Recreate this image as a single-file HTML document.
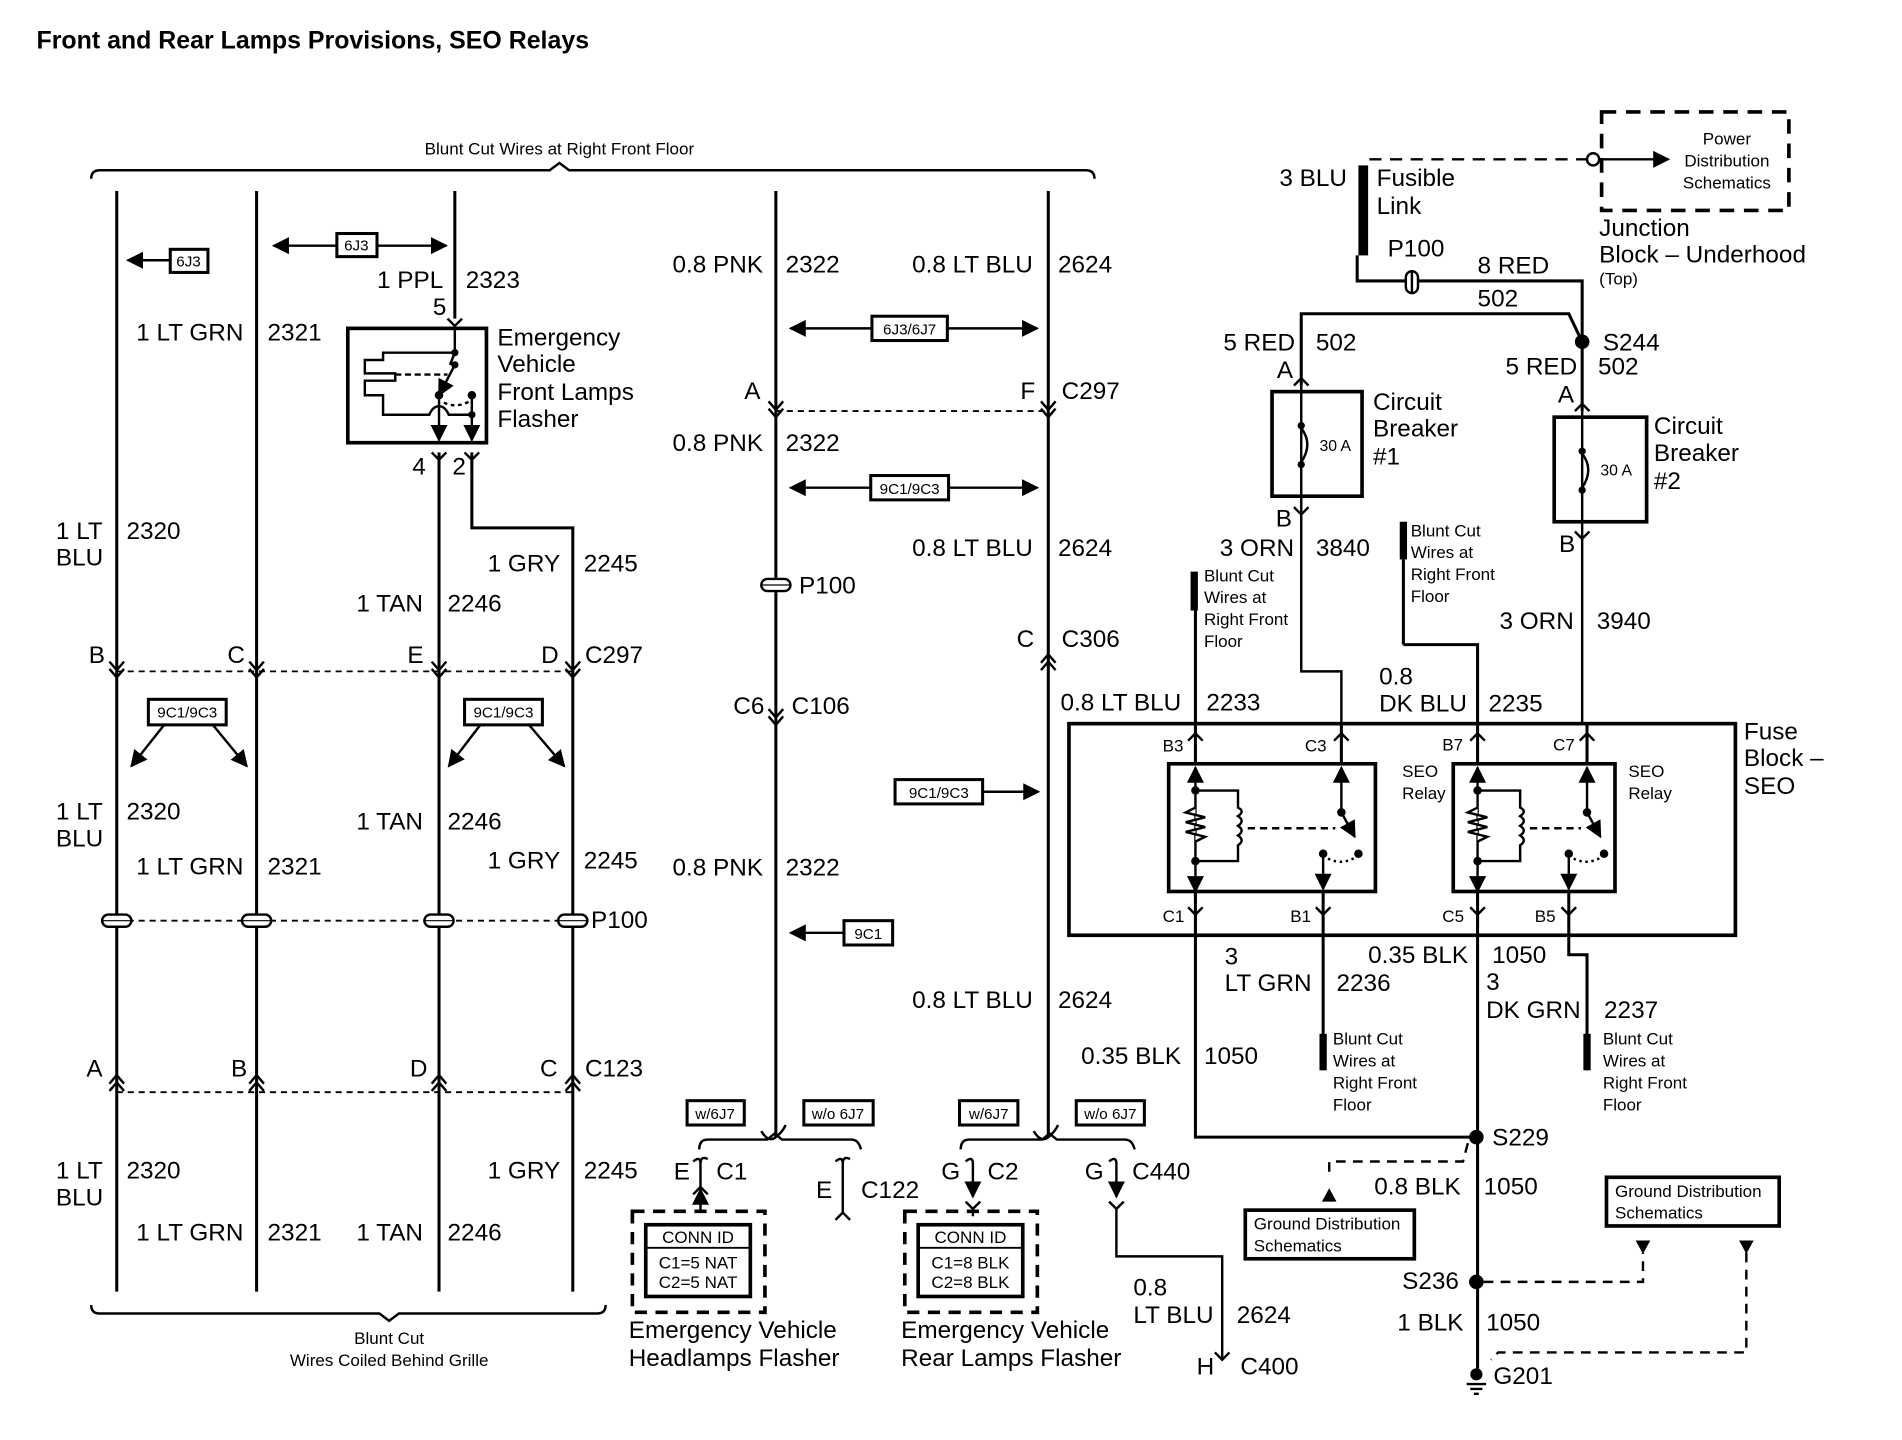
<!DOCTYPE html>
<html><head><meta charset="utf-8"><style>
html,body{margin:0;padding:0;background:#fff;}
svg{display:block;}
text{font-family:"Liberation Sans",Arial,sans-serif;fill:#000;}
.l{font-size:20px;}
.s{font-size:14px;}
.b{font-size:12.5px;}
</style></head><body>
<svg width="1902" height="1440" viewBox="0 0 1564 1184" preserveAspectRatio="none" xmlns="http://www.w3.org/2000/svg">
<defs>
<marker id="ar" viewBox="0 0 10 10" refX="9" refY="5" markerWidth="7" markerHeight="7" orient="auto-start-reverse"><path d="M0,0 L10,5 L0,10 z" fill="#000"/></marker>
</defs>
<rect width="1564" height="1184" fill="#fff"/>
<text x="30" y="40" style="font-size:20.5px;font-weight:bold">Front and Rear Lamps Provisions, SEO Relays</text>

<g stroke="#000" fill="none" stroke-width="2">
<path d="M75,147 Q75,140 82,140 L452,140 L460,134 L468,140 L893,140 Q900,140 900,147"/>
<path d="M75,1073 Q75,1080 82,1080 L312,1080 L320,1086 L328,1080 L491,1080 Q498,1080 498,1073"/>
</g>
<text x="460" y="127" text-anchor="middle" class="s">Blunt Cut Wires at Right Front Floor</text>
<text x="320" y="1105" text-anchor="middle" class="s">Blunt Cut</text>
<text x="320" y="1123" text-anchor="middle" class="s">Wires Coiled Behind Grille</text>

<g stroke="#000" fill="none" stroke-width="2.5">
<path d="M96,157 V1062"/><path d="M211,157 V1062"/>
<path d="M374,157 V262"/><path d="M361,372 V1062"/>
<path d="M388,372 V434 H471 V1062"/>
<path d="M638,157 V935"/><path d="M862,157 V935"/>
</g>
<g stroke="#000" fill="none" stroke-width="2">
<path d="M90,544 L96,551 L102,544 M90,550 L96,557 L102,550"/>
<path d="M205,544 L211,551 L217,544 M205,550 L211,557 L217,550"/>
<path d="M355,544 L361,551 L367,544 M355,550 L361,557 L367,550"/>
<path d="M465,544 L471,551 L477,544 M465,550 L471,557 L477,550"/>
<path d="M90,891 L96,884 L102,891 M90,897 L96,890 L102,897"/>
<path d="M205,891 L211,884 L217,891 M205,897 L211,890 L217,897"/>
<path d="M355,891 L361,884 L367,891 M355,897 L361,890 L367,897"/>
<path d="M465,891 L471,884 L477,891 M465,897 L471,890 L477,897"/>
<path d="M632,330 L638,337 L644,330 M632,336 L638,343 L644,336"/>
<path d="M856,330 L862,337 L868,330 M856,336 L862,343 L868,336"/>
<path d="M856,545 L862,538 L868,545 M856,551 L862,544 L868,551"/>
<path d="M632,583 L638,590 L644,583 M632,589 L638,596 L644,589"/>
</g>
<g stroke="#000" stroke-width="1.5" stroke-dasharray="5,4">
<path d="M96,552 H471"/><path d="M96,898 H471"/><path d="M96,757 H471"/><path d="M638,338 H862"/>
</g>
<g fill="#fff" stroke="#000" stroke-width="2">
<rect x="84" y="752" width="24" height="10" rx="5"/><rect x="199" y="752" width="24" height="10" rx="5"/>
<rect x="349" y="752" width="24" height="10" rx="5"/><rect x="459" y="752" width="24" height="10" rx="5"/>
<rect x="626" y="476" width="24" height="10" rx="5"/>
</g>
<g stroke="#000" stroke-width="1"><path d="M84,757 H108 M199,757 H223 M349,757 H373 M459,757 H483 M626,481 H650"/></g>

<g stroke="#000" stroke-width="2" fill="none">
<path d="M140,214 H105" marker-end="url(#ar)"/>
<path d="M225,202 H367" marker-end="url(#ar)" marker-start="url(#ar)"/>
<path d="M135,596 L108,630" marker-end="url(#ar)"/><path d="M175,596 L203,630" marker-end="url(#ar)"/>
<path d="M395,596 L369,630" marker-end="url(#ar)"/><path d="M435,596 L464,630" marker-end="url(#ar)"/>
<path d="M650,270 H853" marker-end="url(#ar)" marker-start="url(#ar)"/>
<path d="M650,401 H853" marker-end="url(#ar)" marker-start="url(#ar)"/>
<path d="M808,651 H854" marker-end="url(#ar)"/>
<path d="M694,767 H650" marker-end="url(#ar)"/>
</g>
<g stroke="#000" stroke-width="2.5" fill="#fff">
<rect x="140" y="205" width="31" height="19"/><rect x="277" y="192" width="33" height="19"/>
<rect x="122" y="575" width="64" height="21"/><rect x="382" y="575" width="64" height="21"/>
<rect x="717" y="260" width="62" height="20"/><rect x="716" y="391" width="64" height="20"/>
<rect x="736" y="641" width="72" height="20"/><rect x="694" y="757" width="40" height="20"/>
<rect x="565" y="905" width="47" height="20"/><rect x="661" y="905" width="57" height="20"/>
<rect x="789" y="905" width="48" height="20"/><rect x="885" y="905" width="56" height="20"/>
</g>
<g class="b" text-anchor="middle">
<text x="155" y="219" class="b">6J3</text><text x="293" y="206" class="b">6J3</text>
<text x="154" y="590" class="b">9C1/9C3</text><text x="414" y="590" class="b">9C1/9C3</text>
<text x="748" y="275" class="b">6J3/6J7</text><text x="748" y="406" class="b">9C1/9C3</text>
<text x="772" y="656" class="b">9C1/9C3</text><text x="714" y="772" class="b">9C1</text>
<text x="588" y="920" class="b">w/6J7</text><text x="689" y="920" class="b">w/o 6J7</text>
<text x="813" y="920" class="b">w/6J7</text><text x="913" y="920" class="b">w/o 6J7</text>
</g>

<!-- flasher -->
<g stroke="#000" fill="none" stroke-width="2">
<rect x="286" y="270" width="114" height="94" stroke-width="3"/>
<path d="M368,262 L374,268 L380,262"/>
<path d="M374,270 V290 L370,300 M374,290 H315 V296 H300 V307 H325 V313 H300 V325 H315 V341 H353 Q356,334 361,334 Q366,334 369,341 H388"/>
<path d="M374,300 L361,325" marker-end="url(#ar)"/>
<path d="M325,308 H368" stroke-dasharray="5,3"/>
<path d="M361,325 V362" marker-end="url(#ar)"/><path d="M388,325 V362" marker-end="url(#ar)"/>
<path d="M365,331 Q375,336 386,330" stroke-dasharray="3,3"/>
<path d="M355,372 L361,378 L367,372 M382,372 L388,378 L394,372"/>
</g>
<g fill="#000"><circle cx="374" cy="290" r="3"/><circle cx="374" cy="300" r="3"/><circle cx="361" cy="325" r="3.5"/><circle cx="388" cy="325" r="3.5"/><circle cx="388" cy="341" r="3"/></g>

<g class="l">
<text x="310" y="237">1 PPL</text><text x="383" y="237">2323</text><text x="356" y="259">5</text>
<text x="112" y="280">1 LT GRN</text><text x="220" y="280">2321</text>
<text x="409" y="284">Emergency</text><text x="409" y="306">Vehicle</text><text x="409" y="329">Front Lamps</text><text x="409" y="351">Flasher</text>
<text x="339" y="390">4</text><text x="372" y="390">2</text>
<text x="46" y="443">1 LT</text><text x="46" y="465">BLU</text><text x="104" y="443">2320</text>
<text x="401" y="470">1 GRY</text><text x="480" y="470">2245</text>
<text x="293" y="503">1 TAN</text><text x="368" y="503">2246</text>
<text x="73" y="545">B</text><text x="187" y="545">C</text><text x="335" y="545">E</text><text x="445" y="545">D</text><text x="481" y="545">C297</text>
<text x="46" y="674">1 LT</text><text x="46" y="696">BLU</text><text x="104" y="674">2320</text>
<text x="293" y="682">1 TAN</text><text x="368" y="682">2246</text>
<text x="112" y="719">1 LT GRN</text><text x="220" y="719">2321</text>
<text x="401" y="714">1 GRY</text><text x="480" y="714">2245</text>
<text x="486" y="763">P100</text>
<text x="71" y="885">A</text><text x="190" y="885">B</text><text x="337" y="885">D</text><text x="444" y="885">C</text><text x="481" y="885">C123</text>
<text x="46" y="969">1 LT</text><text x="46" y="991">BLU</text><text x="104" y="969">2320</text>
<text x="401" y="969">1 GRY</text><text x="480" y="969">2245</text>
<text x="112" y="1020">1 LT GRN</text><text x="220" y="1020">2321</text>
<text x="293" y="1020">1 TAN</text><text x="368" y="1020">2246</text>

<text x="553" y="224">0.8 PNK</text><text x="646" y="224">2322</text>
<text x="750" y="224">0.8 LT BLU</text><text x="870" y="224">2624</text>
<text x="612" y="328">A</text><text x="839" y="328">F</text><text x="873" y="328">C297</text>
<text x="553" y="371">0.8 PNK</text><text x="646" y="371">2322</text>
<text x="750" y="457">0.8 LT BLU</text><text x="870" y="457">2624</text>
<text x="657" y="488">P100</text>
<text x="836" y="532">C</text><text x="873" y="532">C306</text>
<text x="603" y="587">C6</text><text x="651" y="587">C106</text>
<text x="553" y="720">0.8 PNK</text><text x="646" y="720">2322</text>
<text x="750" y="829">0.8 LT BLU</text><text x="870" y="829">2624</text>
<text x="554" y="970">E</text><text x="589" y="970">C1</text>
<text x="671" y="985">E</text><text x="708" y="985">C122</text>
<text x="774" y="970">G</text><text x="812" y="970">C2</text>
<text x="892" y="970">G</text><text x="931" y="970">C440</text>
<text x="932" y="1065">0.8</text><text x="932" y="1088">LT BLU</text><text x="1017" y="1088">2624</text>
<text x="984" y="1130">H</text><text x="1020" y="1130">C400</text>
<text x="517" y="1100">Emergency Vehicle</text><text x="517" y="1123">Headlamps Flasher</text>
<text x="741" y="1100">Emergency Vehicle</text><text x="741" y="1123">Rear Lamps Flasher</text>
</g>

<g stroke="#000" fill="none" stroke-width="2">
<path d="M626,930 Q632,940 638,935 Q644,930 646,925"/>
<path d="M575,945 Q575,937 582,937 L631,937 L637,932 L643,937 L700,937 Q706,937 708,945"/>
<path d="M850,930 Q856,940 862,935 Q868,930 870,925"/>
<path d="M790,945 Q790,937 797,937 L857,937 L863,932 L869,937 L925,937 Q931,937 933,945"/>
<path d="M570,955 Q576,950 576,957 V976 M576,957 Q576,950 582,953"/>
<path d="M576,995 V978" marker-end="url(#ar)"/><path d="M570,982 L576,976 L582,982"/>
<path d="M687,955 Q693,950 693,957 V997 L687,1003 M693,997 L699,1003 M693,957 Q693,950 699,953"/>
<path d="M794,955 Q800,950 800,957 V984" marker-end="url(#ar)"/><path d="M794,988 L800,994 L806,988 M800,994 V1000"/>
<path d="M912,955 Q918,950 918,957 V984" marker-end="url(#ar)"/><path d="M912,988 L918,994 L924,988 M918,994 V1033 H1005 V1118"/>
<path d="M999,1112 L1005,1118 L1011,1112"/>
</g>
<g stroke="#000" fill="none" stroke-width="3" stroke-dasharray="10,7">
<rect x="520" y="996" width="109" height="83"/><rect x="744" y="996" width="109" height="83"/>
</g>
<g stroke="#000" stroke-width="3" fill="#fff">
<rect x="531" y="1007" width="86" height="59"/><rect x="755" y="1007" width="86" height="59"/>
</g>
<g stroke="#000" stroke-width="1.5"><path d="M531,1026 H617 M755,1026 H841"/></g>
<g class="s" text-anchor="middle">
<text x="574" y="1022">CONN ID</text><text x="574" y="1043">C1=5 NAT</text><text x="574" y="1059">C2=5 NAT</text>
<text x="798" y="1022">CONN ID</text><text x="798" y="1043">C1=8 BLK</text><text x="798" y="1059">C2=8 BLK</text>
</g>

<!-- right side top -->
<g stroke="#000" fill="none" stroke-width="2.5">
<path d="M1116,210 V231 H1301 V281"/>
<path d="M1070,317 V258 H1290 L1301,281"/>
<path d="M1301,281 V338"/>
</g>
<rect x="1117" y="136" width="8" height="74" fill="#000"/>
<g stroke="#000" fill="none" stroke-width="2">
<path d="M1126,131 H1305" stroke-dasharray="10,7"/>
<circle cx="1310" cy="131" r="5" fill="#fff"/>
<path d="M1315,131 H1372" marker-end="url(#ar)"/>
<rect x="1317" y="92" width="154" height="81" stroke-width="3" stroke-dasharray="12,8"/>
<rect x="1156" y="223" width="10" height="18" rx="5" fill="#fff"/><path d="M1161,223 V241"/>
</g>
<text x="1420" y="119" text-anchor="middle" class="s">Power</text>
<text x="1420" y="137" text-anchor="middle" class="s">Distribution</text>
<text x="1420" y="155" text-anchor="middle" class="s">Schematics</text>
<circle cx="1301" cy="281" r="6" fill="#000"/>

<g stroke="#000" fill="none" stroke-width="3">
<rect x="1046" y="322" width="74" height="86"/><rect x="1278" y="343" width="76" height="86"/>
</g>
<g stroke="#000" fill="none" stroke-width="2">
<path d="M1064,317 L1070,311 L1076,317 M1070,317 V408"/>
<path d="M1070,352 Q1080,365 1070,380"/>
<path d="M1295,338 L1301,332 L1307,338 M1301,338 V429"/>
<path d="M1301,373 Q1311,386 1301,401"/>
<path d="M1064,417 L1070,423 L1076,417 M1070,408 V552 H1103 V594"/>
<path d="M1295,437 L1301,443 L1307,437 M1301,429 V594"/>
</g>
<g fill="#000"><circle cx="1070" cy="350" r="3"/><circle cx="1070" cy="382" r="3"/><circle cx="1301" cy="371" r="3"/><circle cx="1301" cy="403" r="3"/></g>
<text x="1085" y="371" class="s" style="font-size:13px">30 A</text><text x="1316" y="391" class="s" style="font-size:13px">30 A</text>

<rect x="879" y="595" width="548" height="174" fill="none" stroke="#000" stroke-width="3"/>
<g stroke="#000" fill="none" stroke-width="2.5">
<path d="M983,500 V628"/>
<path d="M1154,530 H1215 V628"/>
<path d="M1154,460 V530"/>
<path d="M1103,594 V628"/>
<path d="M1305,594 V628"/>
<path d="M983,733 V935 H1214"/>
<path d="M1088,733 V880"/>
<path d="M1215,733 V1130"/>
<path d="M1290,733 V785 H1305 V880"/>
</g>
<rect x="979" y="470" width="6" height="32" fill="#000"/>
<rect x="1151" y="429" width="6" height="31" fill="#000"/>
<rect x="1085" y="850" width="6" height="30" fill="#000"/>
<rect x="1302" y="850" width="6" height="30" fill="#000"/>

<!-- relay 1 -->
<g stroke="#000" fill="none" stroke-width="2">
<rect x="961" y="628" width="170" height="105" stroke-width="3"/>
<path d="M977,609 L983,603 L989,609 M1097,609 L1103,603 L1109,609"/>
<path d="M977,746 L983,752 L989,746 M1082,746 L1088,752 L1094,746"/>
<path d="M983,631 V733" marker-start="url(#ar)" marker-end="url(#ar)"/>
<path d="M983,650 H1018 V664 Q1024,667 1018,671 Q1024,675 1018,679 Q1024,683 1018,687 Q1024,691 1018,695 V708 H983"/>
<path d="M983,664 L975,668 L991,672 L975,676 L991,680 L975,684 L991,688 L983,692" fill="#fff"/>
<path d="M1026,681 H1098" stroke-dasharray="6,4"/>
<path d="M1103,631 V668" marker-start="url(#ar)"/>
<path d="M1103,668 L1114,688" marker-end="url(#ar)"/>
<path d="M1088,702 V731" marker-end="url(#ar)"/>
<path d="M1092,706 Q1104,712 1116,704" stroke-dasharray="2,3"/>
</g>
<g fill="#000"><circle cx="983" cy="650" r="3.5"/><circle cx="983" cy="708" r="3.5"/><circle cx="1103" cy="668" r="3.5"/><circle cx="1117" cy="702" r="3.5"/><circle cx="1088" cy="702" r="3.5"/></g>

<!-- relay 2 -->
<g stroke="#000" fill="none" stroke-width="2">
<rect x="1195" y="628" width="133" height="105" stroke-width="3"/>
<path d="M1209,609 L1215,603 L1221,609 M1299,609 L1305,603 L1311,609"/>
<path d="M1209,746 L1215,752 L1221,746 M1284,746 L1290,752 L1296,746"/>
<path d="M1215,631 V733" marker-start="url(#ar)" marker-end="url(#ar)"/>
<path d="M1215,650 H1250 V664 Q1256,667 1250,671 Q1256,675 1250,679 Q1256,683 1250,687 Q1256,691 1250,695 V708 H1215"/>
<path d="M1215,664 L1207,668 L1223,672 L1207,676 L1223,680 L1207,684 L1223,688 L1215,692" fill="#fff"/>
<path d="M1258,681 H1300" stroke-dasharray="6,4"/>
<path d="M1305,631 V668" marker-start="url(#ar)"/>
<path d="M1305,668 L1316,688" marker-end="url(#ar)"/>
<path d="M1290,702 V731" marker-end="url(#ar)"/>
<path d="M1294,706 Q1306,712 1318,704" stroke-dasharray="2,3"/>
</g>
<g fill="#000"><circle cx="1215" cy="650" r="3.5"/><circle cx="1215" cy="708" r="3.5"/><circle cx="1305" cy="668" r="3.5"/><circle cx="1319" cy="702" r="3.5"/><circle cx="1290" cy="702" r="3.5"/></g>

<g fill="#000"><circle cx="1214" cy="935" r="6"/><circle cx="1214" cy="1054" r="6"/><circle cx="1214" cy="1130" r="5"/>
<path d="M1087,988 L1093,977 L1099,988 z"/><path d="M1345,1020 L1351,1031 L1357,1020 z"/><path d="M1430,1020 L1436,1031 L1442,1020 z"/></g>
<g stroke="#000" fill="none" stroke-width="2">
<path d="M1206,1138 H1222 M1209,1142 H1219 M1212,1146 H1216"/>
<path d="M1207,940 L1203,955 H1093 V964" stroke-dasharray="8,6"/>
<path d="M1220,1054 H1351 V1030" stroke-dasharray="8,6"/>
<path d="M1436,1030 V1112 H1232 L1226,1118" stroke-dasharray="8,6"/>
<rect x="1024" y="995" width="139" height="40" stroke-width="3"/>
<rect x="1321" y="968" width="142" height="40" stroke-width="3"/>
</g>
<g class="s">
<text x="1031" y="1011">Ground Distribution</text><text x="1031" y="1029">Schematics</text>
<text x="1328" y="984">Ground Distribution</text><text x="1328" y="1002">Schematics</text>
<text x="990" y="478">Blunt Cut</text><text x="990" y="496">Wires at</text><text x="990" y="514">Right Front</text><text x="990" y="532">Floor</text>
<text x="1160" y="441">Blunt Cut</text><text x="1160" y="459">Wires at</text><text x="1160" y="477">Right Front</text><text x="1160" y="495">Floor</text>
<text x="1096" y="859">Blunt Cut</text><text x="1096" y="877">Wires at</text><text x="1096" y="895">Right Front</text><text x="1096" y="913">Floor</text>
<text x="1318" y="859">Blunt Cut</text><text x="1318" y="877">Wires at</text><text x="1318" y="895">Right Front</text><text x="1318" y="913">Floor</text>
<text x="956" y="618">B3</text><text x="1073" y="618">C3</text><text x="1186" y="617">B7</text><text x="1277" y="617">C7</text>
<text x="956" y="758">C1</text><text x="1061" y="758">B1</text><text x="1186" y="758">C5</text><text x="1262" y="758">B5</text>
<text x="1153" y="639">SEO</text><text x="1153" y="657">Relay</text><text x="1339" y="639">SEO</text><text x="1339" y="657">Relay</text>
<text x="1315" y="234">(Top)</text>
</g>
<g class="l">
<text x="1052" y="153">3 BLU</text><text x="1132" y="153">Fusible</text><text x="1132" y="176">Link</text>
<text x="1141" y="211">P100</text><text x="1215" y="225">8 RED</text><text x="1215" y="252">502</text>
<text x="1315" y="194">Junction</text><text x="1315" y="216">Block – Underhood</text>
<text x="1318" y="288">S244</text>
<text x="1006" y="288">5 RED</text><text x="1082" y="288">502</text>
<text x="1238" y="308">5 RED</text><text x="1314" y="308">502</text>
<text x="1050" y="311">A</text><text x="1281" y="331">A</text>
<text x="1129" y="337">Circuit</text><text x="1129" y="359">Breaker</text><text x="1129" y="382">#1</text>
<text x="1360" y="357">Circuit</text><text x="1360" y="379">Breaker</text><text x="1360" y="402">#2</text>
<text x="1049" y="433">B</text><text x="1282" y="454">B</text>
<text x="1003" y="457">3 ORN</text><text x="1082" y="457">3840</text>
<text x="1233" y="517">3 ORN</text><text x="1313" y="517">3940</text>
<text x="872" y="584">0.8 LT BLU</text><text x="992" y="584">2233</text>
<text x="1134" y="563">0.8</text><text x="1134" y="585">DK BLU</text><text x="1224" y="585">2235</text>
<text x="1434" y="608">Fuse</text><text x="1434" y="630">Block –</text><text x="1434" y="653">SEO</text>
<text x="1007" y="793">3</text><text x="1007" y="815">LT GRN</text><text x="1099" y="815">2236</text>
<text x="1125" y="792">0.35 BLK</text><text x="1227" y="792">1050</text>
<text x="1222" y="814">3</text><text x="1222" y="837">DK GRN</text><text x="1319" y="837">2237</text>
<text x="889" y="875">0.35 BLK</text><text x="990" y="875">1050</text>
<text x="1227" y="942">S229</text>
<text x="1130" y="982">0.8 BLK</text><text x="1220" y="982">1050</text>
<text x="1153" y="1060">S236</text>
<text x="1149" y="1094">1 BLK</text><text x="1222" y="1094">1050</text>
<text x="1228" y="1138">G201</text>
</g>
</svg>
</body></html>
